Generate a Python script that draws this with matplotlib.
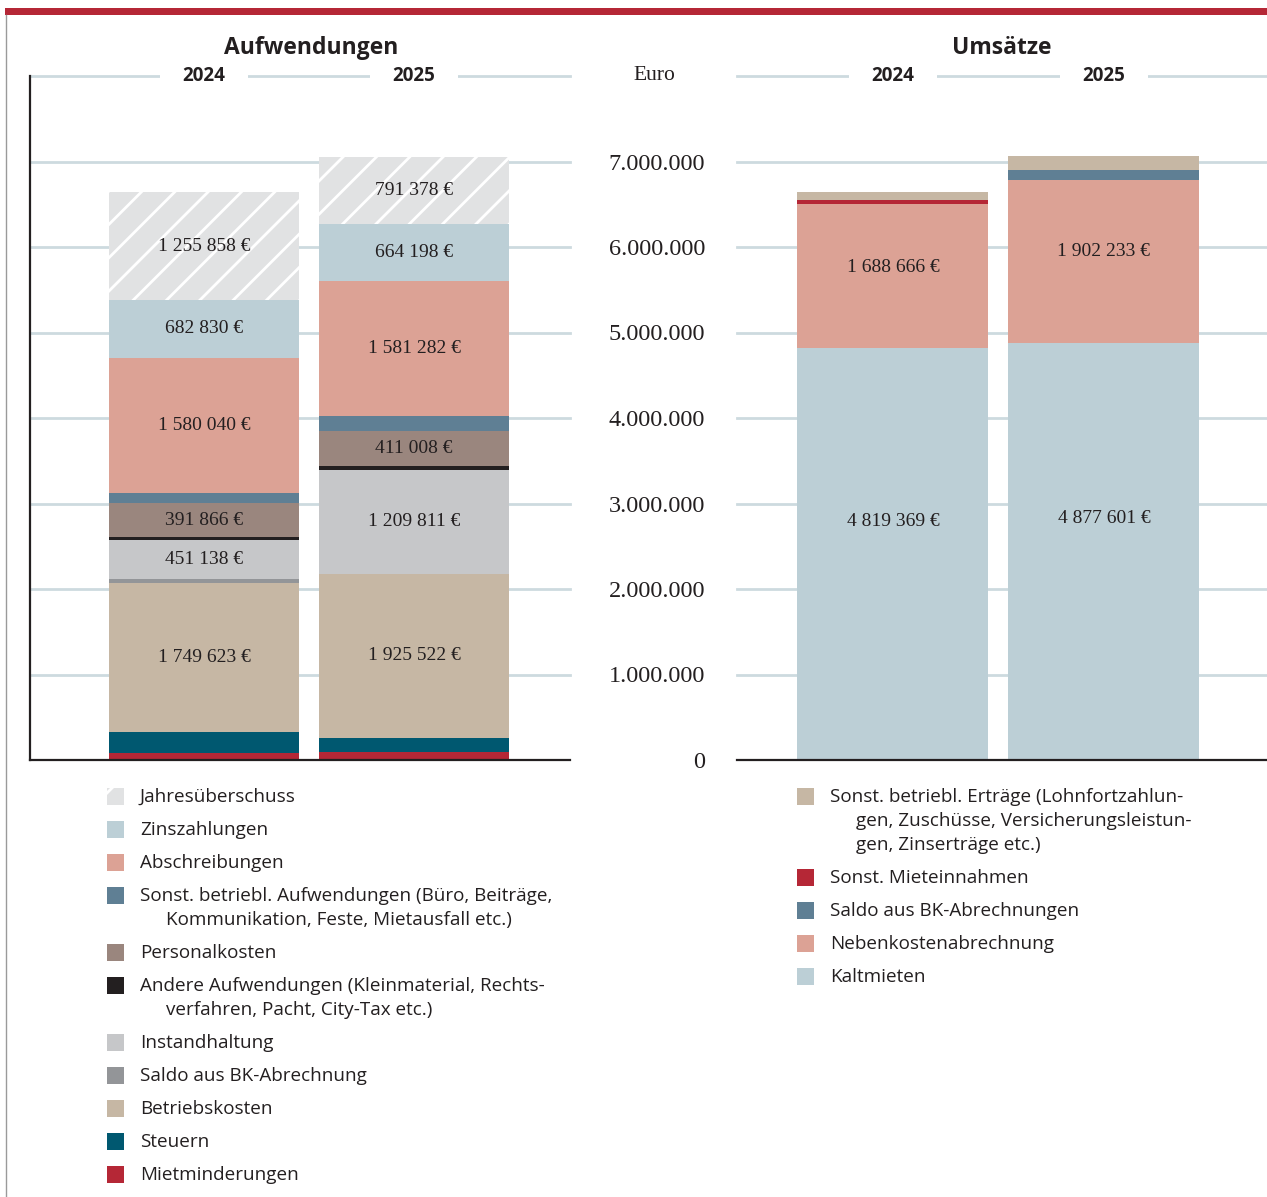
import matplotlib
matplotlib.use("Agg")
import matplotlib.pyplot as plt
from matplotlib.patches import Rectangle
import numpy as np

# --- data (legend order, top of stack first) ---
years = ["2024", "2025"]

aufw_labels = [
    "Jahresüberschuss",
    "Zinszahlungen",
    "Abschreibungen",
    "Sonst. betriebl. Aufwendungen (Büro, Beiträge,\nKommunikation, Feste, Mietausfall etc.)",
    "Personalkosten",
    "Andere Aufwendungen (Kleinmaterial, Rechts-\nverfahren, Pacht, City-Tax etc.)",
    "Instandhaltung",
    "Saldo aus BK-Abrechnung",
    "Betriebskosten",
    "Steuern",
    "Mietminderungen",
]
aufw_2024 = [1255858, 682830, 1580040, 117000, 391866, 39000, 451138, 47000, 1749623, 242000, 82000]
aufw_2025 = [791378, 664198, 1581282, 175000, 411008, 45000, 1209811, 0, 1925522, 164000, 90000]
aufw_colors = ["#e1e2e3", "#bccfd6", "#dca295", "#5f7f94", "#9a867e", "#231f20",
               "#c6c7c9", "#939598", "#c6b7a4", "#005870", "#b52736"]

ums_labels = [
    "Sonst. betriebl. Erträge (Lohnfortzahlun-\ngen, Zuschüsse, Versicherungsleistun-\ngen, Zinserträge etc.)",
    "Sonst. Mieteinnahmen",
    "Saldo aus BK-Abrechnungen",
    "Nebenkostenabrechnung",
    "Kaltmieten",
]
ums_2024 = [90000, 45000, 0, 1688666, 4819369]
ums_2025 = [164000, 0, 117000, 1902233, 4877601]
ums_colors = ["#c6b7a4", "#b52736", "#5f7f94", "#dca295", "#bccfd6"]

yticks = [0, 1000000, 2000000, 3000000, 4000000, 5000000, 6000000, 7000000]

W, H = 1267, 1197
SANS = "Open Sans"
SERIF = "Liberation Serif"
TXT = "#231f20"
GRID = "#cddadf"

plt.rcParams["hatch.linewidth"] = 2.0

fig = plt.figure(figsize=(W / 100, H / 100), dpi=100)


def fx(x):
    return x / W


def fy(y):
    return 1 - y / H


def euro(v):
    return f"{v:,}".replace(",", " ") + " €"


def fmt_tick(v):
    return f"{v:,}".replace(",", ".")


# frame: red top bar + thin grey left rule
fig.patches.append(Rectangle((fx(5), fy(15)), fx(1262), 7 / H, transform=fig.transFigure,
                             color="#b52736", lw=0))
fig.add_artist(plt.Line2D([fx(6), fx(6)], [fy(15), 0], transform=fig.transFigure,
                          color="#9a9a9a", lw=1))

ymax = 8000000
ax_l = fig.add_axes([fx(30), fy(760), fx(540), (760 - 76) / H])
ax_r = fig.add_axes([fx(737), fy(760), fx(530), (760 - 76) / H])


def draw_stack(ax, vals_by_year, colors, hatch_first, frac_mid=0.5, frac_bottom=0.5):
    x = np.arange(len(vals_by_year))
    for xi, vals in zip(x, vals_by_year):
        bottom = 0
        n = len(vals)
        for i in range(n - 1, -1, -1):
            v = vals[i]
            if v <= 0:
                continue
            hatched = hatch_first and i == 0
            ax.bar(xi, v, bottom=bottom, width=0.905, color=colors[i],
                   edgecolor="white" if hatched else colors[i], linewidth=0,
                   hatch="/" if hatched else None, zorder=2)
            if v >= 300000:
                frac = frac_bottom if i == n - 1 else frac_mid
                ax.text(xi, bottom + v * frac, euro(v), ha="center", va="center",
                        fontsize=14, family=SERIF, color=TXT, zorder=3)
            bottom += v


draw_stack(ax_l, [aufw_2024, aufw_2025], aufw_colors, True)
draw_stack(ax_r, [ums_2024, ums_2025], ums_colors, False, frac_mid=0.56, frac_bottom=0.58)

for ax, left, step in ((ax_l, -0.829, 210), (ax_r, -0.739, 211)):
    span = ax.get_position().width * W / step
    ax.set_xlim(left, left + span)
    ax.set_ylim(0, ymax)
    for t in yticks[1:] + [ymax]:
        ax.axhline(t, color=GRID, lw=2, zorder=0, clip_on=False)
    for s in ("top", "right"):
        ax.spines[s].set_visible(False)
    ax.spines["bottom"].set_color(TXT)
    ax.spines["bottom"].set_linewidth(1.6)
    ax.spines["bottom"].set_zorder(4)
    ax.set_xticks([])
    for xi, yr in enumerate(years):
        ax.text(xi, ymax, yr, ha="center", va="center", fontsize=13.5, family=SANS,
                fontweight="bold", color=TXT, zorder=5, clip_on=False,
                bbox=dict(boxstyle="square,pad=1.2", fc="white", ec="none"))

ax_l.spines["left"].set_color(TXT)
ax_l.spines["left"].set_linewidth(1.6)
ax_l.set_yticks([])
ax_r.spines["left"].set_visible(False)
ax_r.set_yticks(yticks)
ax_r.set_yticklabels([fmt_tick(t) for t in yticks], family=SERIF, fontsize=17.5, color=TXT)
ax_r.tick_params(axis="y", length=0, pad=23)

fig.text(fx(311), fy(48), "Aufwendungen", ha="center", va="center", fontsize=16.5,
         fontweight="bold", family=SANS, color=TXT)
fig.text(fx(1002), fy(48), "Umsätze", ha="center", va="center", fontsize=16.5,
         fontweight="bold", family=SANS, color=TXT)
fig.text(fx(654), fy(76), "Euro", ha="center", va="center", fontsize=15.5,
         family=SERIF, color=TXT)


def draw_legend(labels, colors, x_box, x_txt, x_indent, y0, hatch_first):
    y = y0
    for i, (lab, col) in enumerate(zip(labels, colors)):
        hatched = hatch_first and i == 0
        fig.patches.append(Rectangle((fx(x_box), fy(y + 8.5)), fx(17), 17 / H,
                                     transform=fig.transFigure, facecolor=col,
                                     edgecolor="white" if hatched else col, lw=0,
                                     hatch="/" if hatched else None))
        lines = lab.split("\n")
        for j, line in enumerate(lines):
            fig.text(fx(x_txt if j == 0 else x_indent), fy(y + 1), line, ha="left",
                     va="center", fontsize=13.6, family=SANS, color=TXT)
            if j < len(lines) - 1:
                y += 24
        y += 33


draw_legend(aufw_labels, aufw_colors, 107, 140, 166, 796, True)
draw_legend(ums_labels, ums_colors, 797, 830, 856, 796, False)

fig.savefig("out.png", dpi=100, facecolor="white")
